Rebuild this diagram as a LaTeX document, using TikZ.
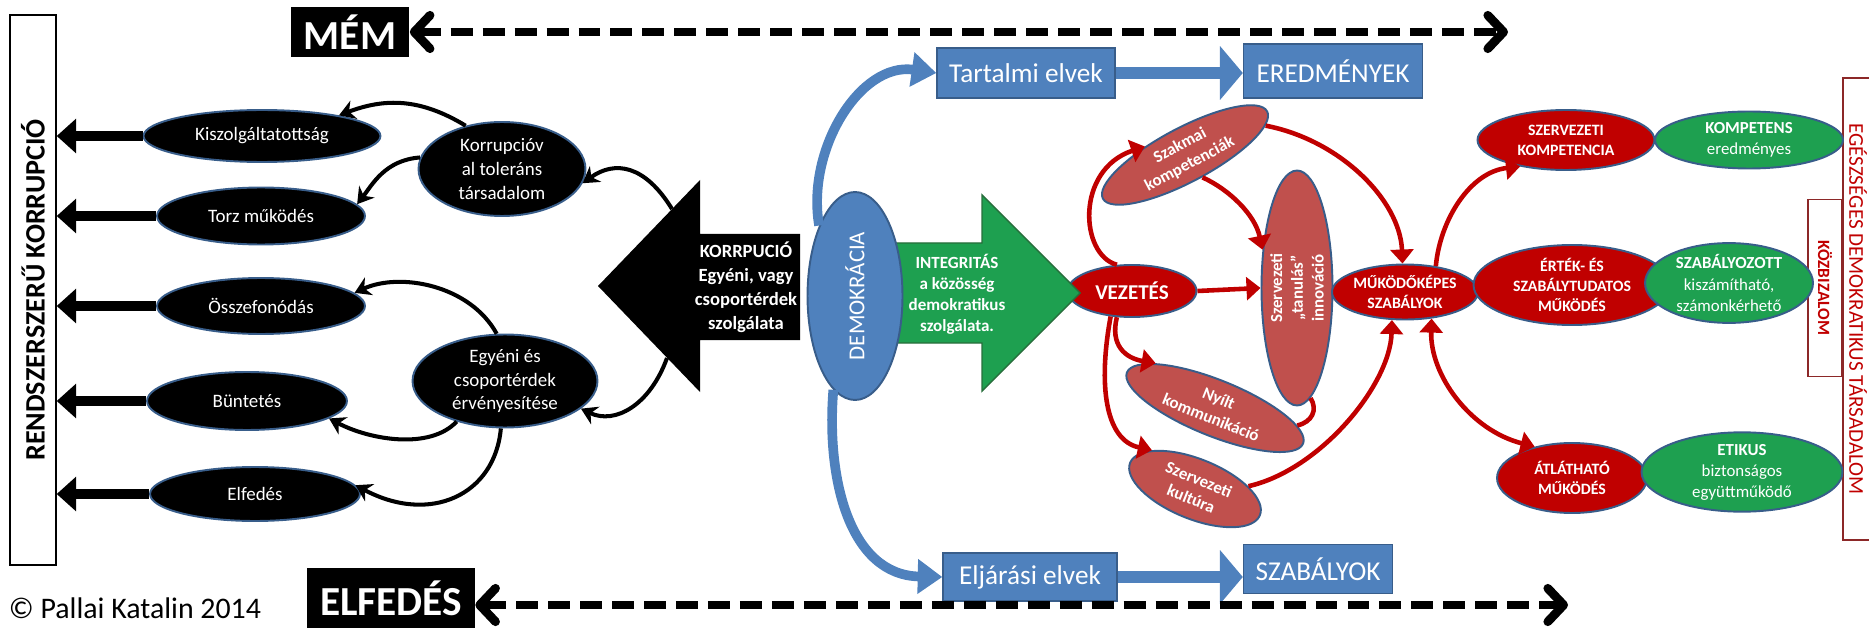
\documentclass[tikz,border=0pt]{standalone}
\usepackage{fontspec}
\setmainfont{Carlito}
\usetikzlibrary{shapes.geometric,arrows.meta}

\definecolor{drkred}{RGB}{192,0,0}
\definecolor{ltred}{RGB}{192,80,77}
\definecolor{grn}{RGB}{30,160,80}
\definecolor{grnline}{RGB}{40,110,60}
\definecolor{bluefill}{RGB}{79,129,189}
\definecolor{blueline}{RGB}{56,93,138}
\definecolor{boxred}{RGB}{140,40,40}

\tikzset{
  elp/.style={ellipse, draw=blueline, line width=1.1pt, text=white, inner sep=0pt, align=center},
  blackelp/.style={elp, fill=black, font=\fontsize{10.8}{13.5}\selectfont},
  redelp/.style={elp, fill=drkred, font=\bfseries\fontsize{9}{11.3}\selectfont},
  pinkelp/.style={elp, fill=ltred, font=\bfseries\fontsize{9.6}{11.8}\selectfont},
  greenelp/.style={elp, fill=grn, font=\fontsize{9.6}{12}\selectfont},
  bluebox/.style={rectangle, fill=bluefill, draw=blueline, line width=0.8pt, text=white, inner sep=0pt, font=\fontsize{15.5}{18}\selectfont},
  blackbox/.style={rectangle, fill=black, text=white, inner sep=0pt, font=\bfseries\fontsize{23.5}{26}\selectfont},
  leftbox/.style={rectangle, draw=black, line width=0.8pt, inner sep=0pt, font=\bfseries\fontsize{16}{18}\selectfont},
  sidebox/.style={rectangle, draw=boxred, line width=0.8pt, inner sep=0pt, text=drkred},
  fatarrow/.style={line width=5.7pt, -{Triangle[length=11pt,width=19pt]}},
  blackcurve/.style={line width=2.3pt, -{Stealth[length=9pt,width=11pt]}},
  redcurve/.style={drkred, line width=2.6pt, -{Triangle[length=8pt,width=13pt]}},
  bluecurve/.style={bluefill, line width=5.5pt, -{Triangle[length=14pt,width=19pt]}},
  blockarrow/.style={bluefill, line width=6.5pt, -{Triangle[length=13pt,width=30pt]}},
  dasharrow/.style={line width=5pt, dash pattern=on 12.5pt off 5.7pt,
    {Straight Barb[length=9pt,width=19pt,round]}-{Straight Barb[length=9pt,width=19pt,round]}}
}

\begin{document}
\begin{tikzpicture}[x=0.02cm, y=-0.02cm]
    \useasboundingbox (0,0) rectangle (1869,628);

    % Side frames
    \node[leftbox, rotate=90, minimum width=11cm, minimum height=0.92cm] (rendbox) at (33,290) {RENDSZERSZERŰ KORRUPCIÓ};
    \node[sidebox, rotate=-90, minimum width=9.24cm, minimum height=0.6cm, font=\fontsize{12}{14}\selectfont] (egdt) at (1858,309) {EGÉSZSÉGES DEMOKRATIKUS TÁRSADALOM};
    \node[sidebox, rotate=-90, minimum width=3.54cm, minimum height=0.68cm, font=\bfseries\fontsize{9.8}{12}\selectfont] (kozb) at (1825,288) {KÖZBIZALOM};

    % MÉM and ELFEDÉS
    \node[blackbox, minimum width=2.38cm, minimum height=1.02cm] (mem) at (350,32) {MÉM};
    \node[blackbox, minimum width=3.36cm, minimum height=1.22cm] (elfed) at (391,598) {ELFEDÉS};
    \coordinate (memend) at (1508,32);
    \coordinate (elfend) at (1568,605);
    \node[font=\fontsize{17}{20}\selectfont] (copy) at (135,608) {© Pallai Katalin 2014};

    % Left ellipses
    \node[blackelp, minimum width=4.74cm, minimum height=1.04cm] (kisz) at (262,136) {Kiszolgáltatottság};
    \node[blackelp, minimum width=4.16cm, minimum height=1.14cm] (torz) at (261,216) {Torz működés};
    \node[blackelp, minimum width=4.16cm, minimum height=1.12cm] (ossz) at (261,306) {Összefonódás};
    \node[blackelp, minimum width=4.0cm, minimum height=1.16cm] (bunt) at (247,401) {Büntetés};
    \node[blackelp, minimum width=4.2cm, minimum height=1.08cm] (elf) at (255,494) {Elfedés};
    \node[blackelp, minimum width=3.34cm, minimum height=1.88cm] (tol) at (502,169) {Korrupcióv\\al toleráns\\társadalom};
    \node[blackelp, minimum width=3.7cm, minimum height=1.86cm] (egy) at (505,381) {Egyéni és\\csoportérdek\\érvényesítése};

    % Thick arrows to the frame
    \draw[fatarrow] (kisz.west) -- (kisz.west -| rendbox.south);
    \draw[fatarrow] (torz.west) -- (torz.west -| rendbox.south);
    \draw[fatarrow] (ossz.west) -- (ossz.west -| rendbox.south);
    \draw[fatarrow] (bunt.west) -- (bunt.west -| rendbox.south);
    \draw[fatarrow] (elf.west) -- (elf.west -| rendbox.south);

    % Big black arrow
    \fill (800,234) -- (700,234) -- (700,180) -- (598,286) -- (700,392) -- (700,340) -- (800,340) -- cycle;
    \node[font=\bfseries\fontsize{10.6}{13.7}\selectfont, text=white, align=center] (korr) at (746,287) {KORRPUCIÓ\\Egyéni, vagy\\csoportérdek\\szolgálata};
    \coordinate (kh1) at (672,209);
    \coordinate (kh2) at (667,358);

    % Black curved arrows
    \draw[blackcurve] (tol.130) .. controls (420,98) and (385,98) .. (kisz.15);
    \draw[blackcurve] (tol.172) .. controls (385,160) and (372,185) .. (torz.7);
    \draw[blackcurve] (kh1) .. controls (645,165) and (615,160) .. (tol.-10);
    \draw[blackcurve] (kh2) .. controls (650,405) and (615,425) .. (egy.-20);
    \draw[blackcurve] (egy.100) .. controls (470,285) and (400,272) .. (ossz.8);
    \draw[blackcurve] (egy.-140) .. controls (430,450) and (370,440) .. (bunt.-12);
    \draw[blackcurve] (egy.-95) .. controls (495,495) and (430,525) .. (elf.5);

    % Leadership, integrity arrow, democracy
    \node[redelp, font=\bfseries\fontsize{12}{14}\selectfont, minimum width=2.58cm, minimum height=1.04cm] (vez) at (1132,291) {VEZETÉS};
    \filldraw[fill=grn, draw=grnline, line width=0.8pt] (870,243) -- (982,243) -- (982,195) -- (1080,293) -- (982,391) -- (982,343) -- (870,343) -- cycle;
    \node[elp, fill=bluefill, rotate=90, minimum width=4.16cm, minimum height=1.9cm, font=\fontsize{13}{15}\selectfont] (demo) at (855,296) {DEMOKRÁCIA};
    \node[font=\bfseries\fontsize{9.7}{12}\selectfont, text=white, align=center] (integr) at (957,294) {INTEGRITÁS\\a közösség\\demokratikus\\szolgálata.};

    % Blue boxes
    \node[bluebox, minimum width=3.56cm, minimum height=1cm] (tart) at (1026,73) {Tartalmi elvek};
    \node[bluebox, minimum width=3.58cm, minimum height=1.08cm] (ered) at (1333,71) {EREDMÉNYEK};
    \node[bluebox, minimum width=3.48cm, minimum height=0.96cm] (elj) at (1030,577) {Eljárási elvek};
    \node[bluebox, minimum width=2.98cm, minimum height=0.98cm] (szably) at (1318,569) {SZABÁLYOK};
    \draw[blockarrow] (tart.east) -- (ered.west |- tart.east);
    \draw[blockarrow] (elj.east) -- (szably.west |- elj.east);
    \draw[bluecurve] (demo.27) .. controls (806,150) and (860,62) .. (tart.west);
    \draw[bluecurve] (demo.167) .. controls (826,480) and (850,575) .. (elj.west);

    % Organisation ellipses
    \node[pinkelp, rotate=28, minimum width=3.72cm, minimum height=1.08cm] (szak) at (1185,155) {Szakmai\\kompetenciák};
    \node[pinkelp, rotate=90, inner sep=-2pt, minimum width=4.7cm, minimum height=1.42cm] (tan) at (1297,288) {Szervezeti\\„tanulás”\\innováció};
    \node[pinkelp, rotate=-22, minimum width=3.8cm, minimum height=1.12cm] (nyilt) at (1215,408) {Nyílt\\kommunikáció};
    \node[pinkelp, rotate=-22, minimum width=2.8cm, minimum height=1.2cm] (kult) at (1195,489) {Szervezeti\\kultúra};

    % Right side
    \node[redelp, minimum width=2.88cm, minimum height=1.1cm] (mukod) at (1405,292) {MŰKÖDŐKÉPES\\SZABÁLYOK};
    \node[redelp, minimum width=3.54cm, minimum height=1.2cm] (szkomp) at (1566,140) {SZERVEZETI\\KOMPETENCIA};
    \node[redelp, minimum width=3.94cm, minimum height=1.6cm] (ertek) at (1572,285) {ÉRTÉK- ÉS\\SZABÁLYTUDATOS\\MŰKÖDÉS};
    \node[redelp, minimum width=3.0cm, minimum height=1.4cm] (atl) at (1572,478) {ÁTLÁTHATÓ\\MŰKÖDÉS};
    \node[greenelp, minimum width=3.76cm, minimum height=1.14cm] (komp) at (1749,140) {\textbf{KOMPETENS}\\eredményes};
    \node[greenelp, minimum width=3.36cm, minimum height=1.58cm] (szab) at (1729,283) {\textbf{SZABÁLYOZOTT}\\kiszámítható,\\számonkérhető};
    \node[greenelp, minimum width=4.02cm, minimum height=1.54cm] (etik) at (1742,472) {\textbf{ETIKUS}\\biztonságos\\együttműködő};

    % Red curved arrows
    \draw[redcurve] (vez.120) .. controls (1080,255) and (1075,170) .. (szak.140);
    \draw[redcurve] (szak.-80) .. controls (1230,190) and (1255,215) .. (tan.42);
    \draw[redcurve] (szak.-8) .. controls (1340,140) and (1400,200) .. (mukod.95);
    \draw[redcurve] (vez.east) -- (tan.north);
    \draw[redcurve] (vez.-120) .. controls (1110,345) and (1125,358) .. (nyilt.165);
    \draw[redcurve] (vez.-130) .. controls (1098,385) and (1105,440) .. (kult.160);
    \draw[drkred, line width=2.6pt] (tan.-173) .. controls (1318,410) and (1312,422) .. (nyilt.10);
    \draw[redcurve] (kult.25) .. controls (1320,470) and (1390,385) .. (mukod.-115);
    \draw[redcurve] (mukod.40) .. controls (1440,220) and (1470,172) .. (szkomp.-150);
    \draw[redcurve, {Triangle[length=8pt,width=13pt]}-{Triangle[length=8pt,width=13pt]}] (mukod.-45) .. controls (1430,375) and (1470,430) .. (atl.140);

    % Dashed double arrows
    \draw[dasharrow] (mem.east) -- (memend);
    \draw[dasharrow] (elfed.east |- elfend) -- (elfend);

\end{tikzpicture}
\end{document}
